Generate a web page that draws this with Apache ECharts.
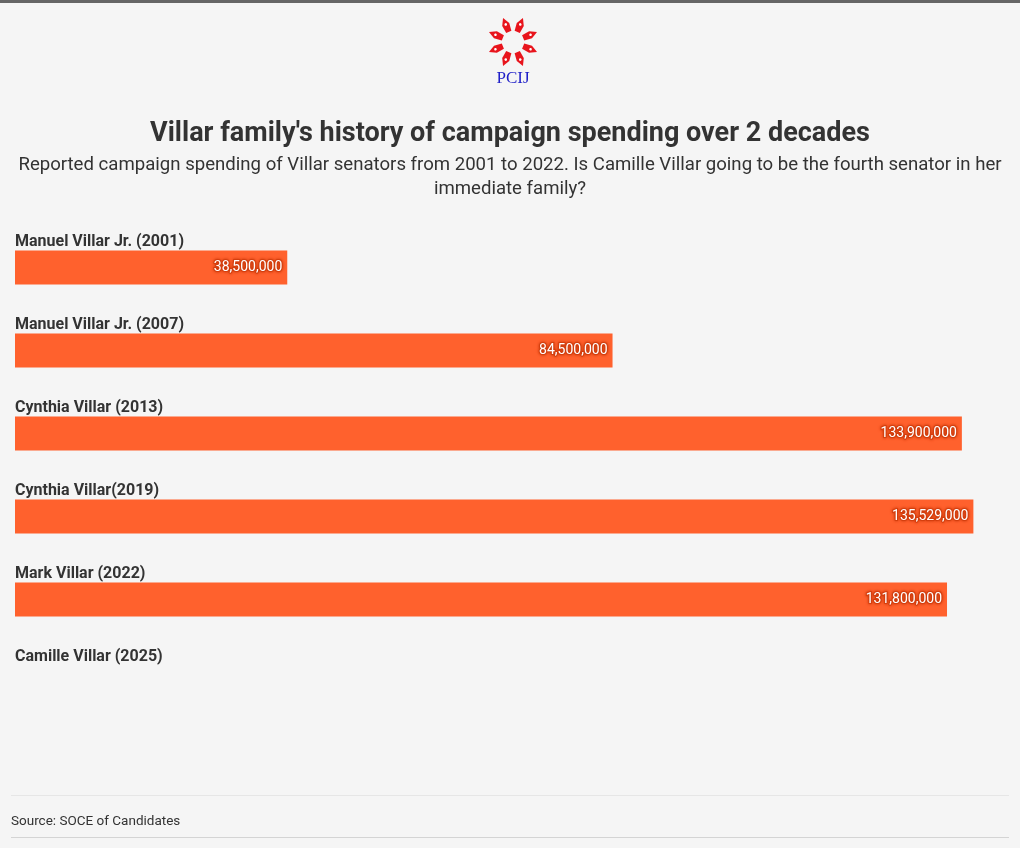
<!DOCTYPE html>
<html>
<head>
<meta charset="utf-8">
<script src="https://cdn.jsdelivr.net/npm/echarts@6/dist/echarts.min.js"></script>
<style>
html,body{margin:0;padding:0;background:#f5f5f5;}
#chart{width:1020px;height:848px;}
</style>
</head>
<body>
<div id="chart"></div>
<script>
const categories = [
  'Manuel Villar Jr. (2001)',
  'Manuel Villar Jr. (2007)',
  'Cynthia Villar (2013)',
  'Cynthia Villar(2019)',
  'Mark Villar (2022)',
  'Camille Villar (2025)'
];
const spending = [38500000, 84500000, 133900000, 135529000, 131800000, null];

const titleText = "Villar family's history of campaign spending over 2 decades";
const subtitleText = "Reported campaign spending of Villar senators from 2001 to 2022. Is Camille Villar going to be the fourth senator in her\nimmediate family?";
const sourceText = "Source: SOCE of Candidates";

const FONT = 'Roboto, "Noto Sans", sans-serif';

function fmt(v) {
  return String(v).replace(/\B(?=(\d{3})+(?!\d))/g, ',');
}

// logo petals (pen nibs)
const petals = [];
for (let k = 0; k < 8; k++) {
  const ang = (22.5 + 45 * k) * Math.PI / 180;
  petals.push({
    type: 'group',
    rotation: ang,
    children: [
      {
        type: 'polygon',
        shape: { points: [[-2.8, -11], [2.8, -11], [3.8, -19], [0, -26], [-3.8, -19]] },
        style: { fill: '#e8141c' }
      },
      {
        type: 'circle',
        shape: { cx: 0, cy: -19, r: 1.3 },
        style: { fill: '#ffffff' }
      }
    ]
  });
}

const chart = echarts.init(document.getElementById('chart'), null, { renderer: 'canvas' });
chart.setOption({
  backgroundColor: '#f5f5f5',
  animation: false,
  grid: { left: 15, right: 15, top: 226, height: 498, containLabel: false },
  xAxis: {
    type: 'value', min: 0, max: 140000000, show: false
  },
  yAxis: {
    type: 'category',
    data: categories,
    inverse: true,
    axisLine: { show: false },
    axisTick: { show: false },
    splitLine: { show: false },
    axisLabel: {
      inside: true,
      margin: 0,
      align: 'left',
      verticalAlign: 'middle',
      formatter: v => '{n|' + v + '}\n{s|}',
      rich: {
        n: { fontFamily: FONT, fontWeight: 'bold', fontSize: 16, color: '#333333', lineHeight: 18 },
        s: { fontSize: 10, lineHeight: 52 }
      }
    }
  },
  series: [{
    type: 'bar',
    data: spending,
    barWidth: 34,
    itemStyle: { color: '#ff612d' },
    label: {
      show: true,
      position: 'insideRight',
      distance: 5,
      formatter: p => fmt(p.value),
      fontFamily: FONT,
      fontSize: 14,
      color: '#ffffff',
      textBorderColor: '#d8400f',
      textBorderWidth: 2,
      textShadowColor: '#c83a0c',
      textShadowBlur: 3
    }
  }],
  graphic: [
    { type: 'rect', left: 0, top: 0, shape: { width: 1020, height: 3 }, style: { fill: '#666666' } },
    { type: 'group', x: 513, y: 42, children: petals },
    {
      type: 'text', x: 513, y: 79,
      style: { text: 'PCIJ', fill: '#1f1fc8', font: '17px "Liberation Serif", "DejaVu Serif", serif', align: 'center', verticalAlign: 'middle' }
    },
    {
      type: 'text', x: 510, y: 134,
      style: { text: titleText, fill: '#333333', font: 'bold 27px ' + FONT, align: 'center', verticalAlign: 'middle' }
    },
    {
      type: 'text', x: 510, y: 177,
      style: { text: subtitleText, fill: '#333333', font: '18.6px ' + FONT, lineHeight: 24, align: 'center', verticalAlign: 'middle' }
    },
    { type: 'rect', left: 11, top: 795, shape: { width: 998, height: 1 }, style: { fill: '#e6e6e6' } },
    {
      type: 'text', x: 11, y: 822,
      style: { text: sourceText, fill: '#333333', font: '13.5px ' + FONT, align: 'left', verticalAlign: 'middle' }
    },
    { type: 'rect', left: 11, top: 837, shape: { width: 998, height: 1 }, style: { fill: '#d4d4d4' } }
  ]
});
</script>
</body>
</html>
